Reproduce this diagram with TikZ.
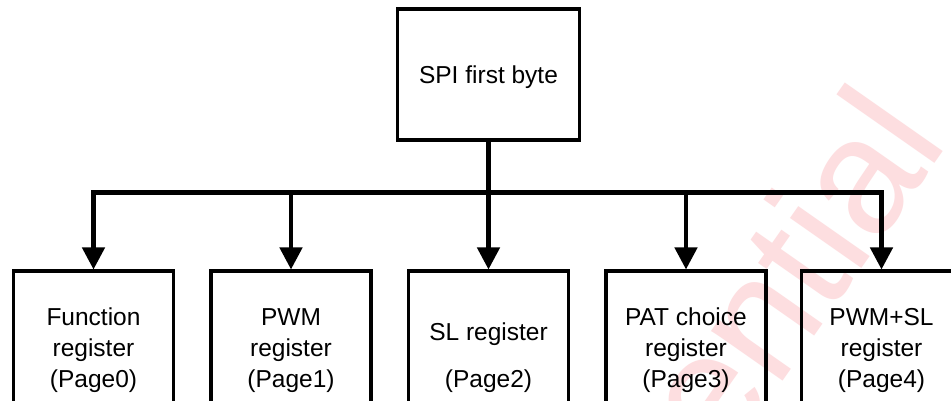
\documentclass[tikz,border=0pt]{standalone}
\usepackage{fontspec}
\setmainfont{Liberation Sans}
\usetikzlibrary{arrows.meta}
\definecolor{wmpink}{RGB}{253,222,224}
\tikzset{
  box/.style={draw=black, line width=3.2pt, rectangle, inner sep=0pt, align=center,
    font=\fontsize{24.5}{31}\selectfont},
  regbox/.style={box, anchor=north, minimum width=160pt, minimum height=159pt},
  conn/.style={draw=black, line width=4.5pt, line join=miter},
  arr/.style={conn, -{Triangle[width=22pt,length=22pt]}},
}
\begin{document}
\begin{tikzpicture}[x=1pt,y=1pt]
\useasboundingbox (0,0) rectangle (951,401);
\clip (0,0) rectangle (951,401);
\fill[white] (0,0) rectangle (951,401);
% watermark
\node[text=wmpink, font=\fontsize{165}{165}\selectfont, rotate=55, anchor=base east, inner sep=0pt] (wm) at (950,259) {Confidential};
% boxes
\node[box, minimum width=182pt, minimum height=131pt, text height=17.5pt, text depth=0pt] (top) at (488.5,326.5) {SPI first byte};
\node[regbox] (b0) at (93.5,131.5) {Function\\register\\(Page0)};
\node[regbox] (b1) at (291,131.5) {PWM\\register\\(Page1)};
\node[regbox] (b2) at (488.5,131.5) {\rule{0pt}{31pt}SL register\\[16pt](Page2)};
\node[regbox] (b3) at (686,131.5) {PAT choice\\register\\(Page3)};
\node[regbox] (b4) at (881.5,131.5) {PWM+SL\\register\\(Page4)};
% connectors
\coordinate (j) at (488.5,208.5);
\draw[conn] (top.south) -- (j);
\draw[arr] (j) -| (b0.north);
\draw[arr] (j) -| (b1.north);
\draw[arr] (j) -- (b2.north);
\draw[arr] (j) -| (b3.north);
\draw[arr] (j) -| (b4.north);
\end{tikzpicture}
\end{document}
